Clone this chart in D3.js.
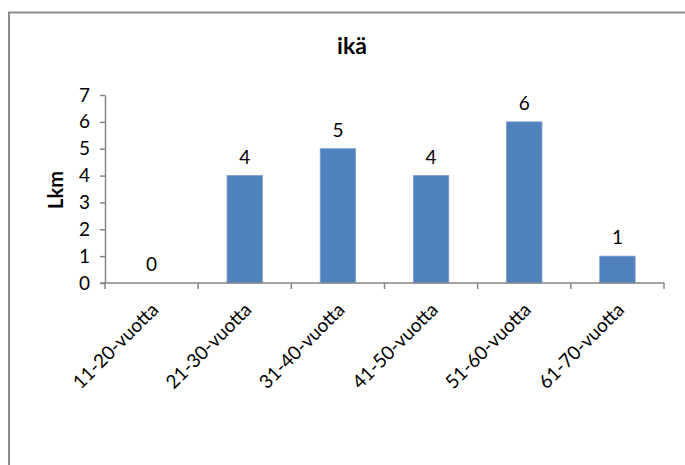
<!DOCTYPE html>
<html>
<head>
<meta charset="utf-8">
<script src="https://cdn.jsdelivr.net/npm/d3@7"></script>
<style>
  html, body { margin: 0; padding: 0; background: #fff; }
  svg { display: block; }
  text { font-family: Lato, "Open Sans", sans-serif; fill: #000; }
</style>
</head>
<body>
<script>
// Age groups and the number of respondents in each
const categories = ["11-20-vuotta", "21-30-vuotta", "31-40-vuotta", "41-50-vuotta", "51-60-vuotta", "61-70-vuotta"];
const counts = [0, 4, 5, 4, 6, 1];
const yTicks = [0, 1, 2, 3, 4, 5, 6, 7];
const title = "ikä";
const yTitle = "Lkm";

const W = 685, H = 465;
const plot = { left: 105, right: 664, top: 95, bottom: 283 };

const svg = d3.select("body").append("svg")
  .attr("width", W).attr("height", H);

svg.append("rect").attr("width", W).attr("height", H).attr("fill", "#fff");

// chart area frame (runs off the right and bottom edges)
svg.append("path")
  .attr("d", `M9,${H + 5} L9,12.5 L${W + 5},12.5`)
  .attr("fill", "none").attr("stroke", "#8c8c8c").attr("stroke-width", 2);

const x = d3.scaleBand().domain(categories).range([plot.left, plot.right]).paddingInner(0.62).paddingOuter(0.31);
const xb = d3.scaleBand().domain(categories).range([plot.left, plot.right]);
const y = d3.scaleLinear().domain([0, 7]).range([plot.bottom, plot.top]);

// bars
svg.append("g").selectAll("rect").data(counts).join("rect")
  .attr("x", (d, i) => x(categories[i]))
  .attr("y", d => y(d))
  .attr("width", x.bandwidth())
  .attr("height", d => y(0) - y(d))
  .attr("fill", "#4f81bd")
  .attr("stroke", "#7aa0cf").attr("stroke-width", 0.8);

// value labels
svg.append("g").selectAll("text").data(counts).join("text")
  .attr("x", (d, i) => xb(categories[i]) + xb.bandwidth() / 2)
  .attr("y", d => y(d) - 12)
  .attr("text-anchor", "middle")
  .attr("font-size", 19)
  .text(d => d);

// y axis
const yAxis = svg.append("g")
  .attr("transform", `translate(${plot.left},0)`)
  .call(d3.axisLeft(y).tickValues(yTicks).tickFormat(d3.format("d")).tickSize(5).tickPadding(10).tickSizeOuter(0));
yAxis.select(".domain").attr("stroke", "#868686").attr("stroke-width", 1.5);
yAxis.selectAll(".tick line").attr("stroke", "#868686").attr("stroke-width", 1.5);
yAxis.selectAll(".tick text").attr("font-size", 19).attr("font-family", "Lato, sans-serif").attr("fill", "#000");

// x axis with ticks at the category boundaries
const boundaries = categories.map(c => xb(c)).concat([plot.right]);
const xAxisG = svg.append("g").attr("transform", `translate(0,${plot.bottom})`);
xAxisG.append("line")
  .attr("x1", plot.left - 5).attr("x2", plot.right)
  .attr("stroke", "#868686").attr("stroke-width", 1.5);
xAxisG.selectAll("line.tk").data(boundaries).join("line")
  .attr("class", "tk")
  .attr("x1", d => d).attr("x2", d => d).attr("y1", 0).attr("y2", 6)
  .attr("stroke", "#868686").attr("stroke-width", 1.5);

// rotated category labels
svg.append("g").selectAll("text").data(categories).join("text")
  .attr("transform", d => `translate(${xb(d) + xb.bandwidth() / 2 + 8},${plot.bottom + 28}) rotate(-45)`)
  .attr("text-anchor", "end")
  .attr("font-size", 19)
  .text(d => d);

// titles
svg.append("text")
  .attr("x", 352).attr("y", 54)
  .attr("text-anchor", "middle")
  .attr("font-size", 23).attr("font-weight", "bold")
  .text(title);

svg.append("text")
  .attr("transform", `translate(63,190) rotate(-90)`)
  .attr("text-anchor", "middle")
  .attr("font-size", 20).attr("font-weight", "bold")
  .text(yTitle);
</script>
</body>
</html>
